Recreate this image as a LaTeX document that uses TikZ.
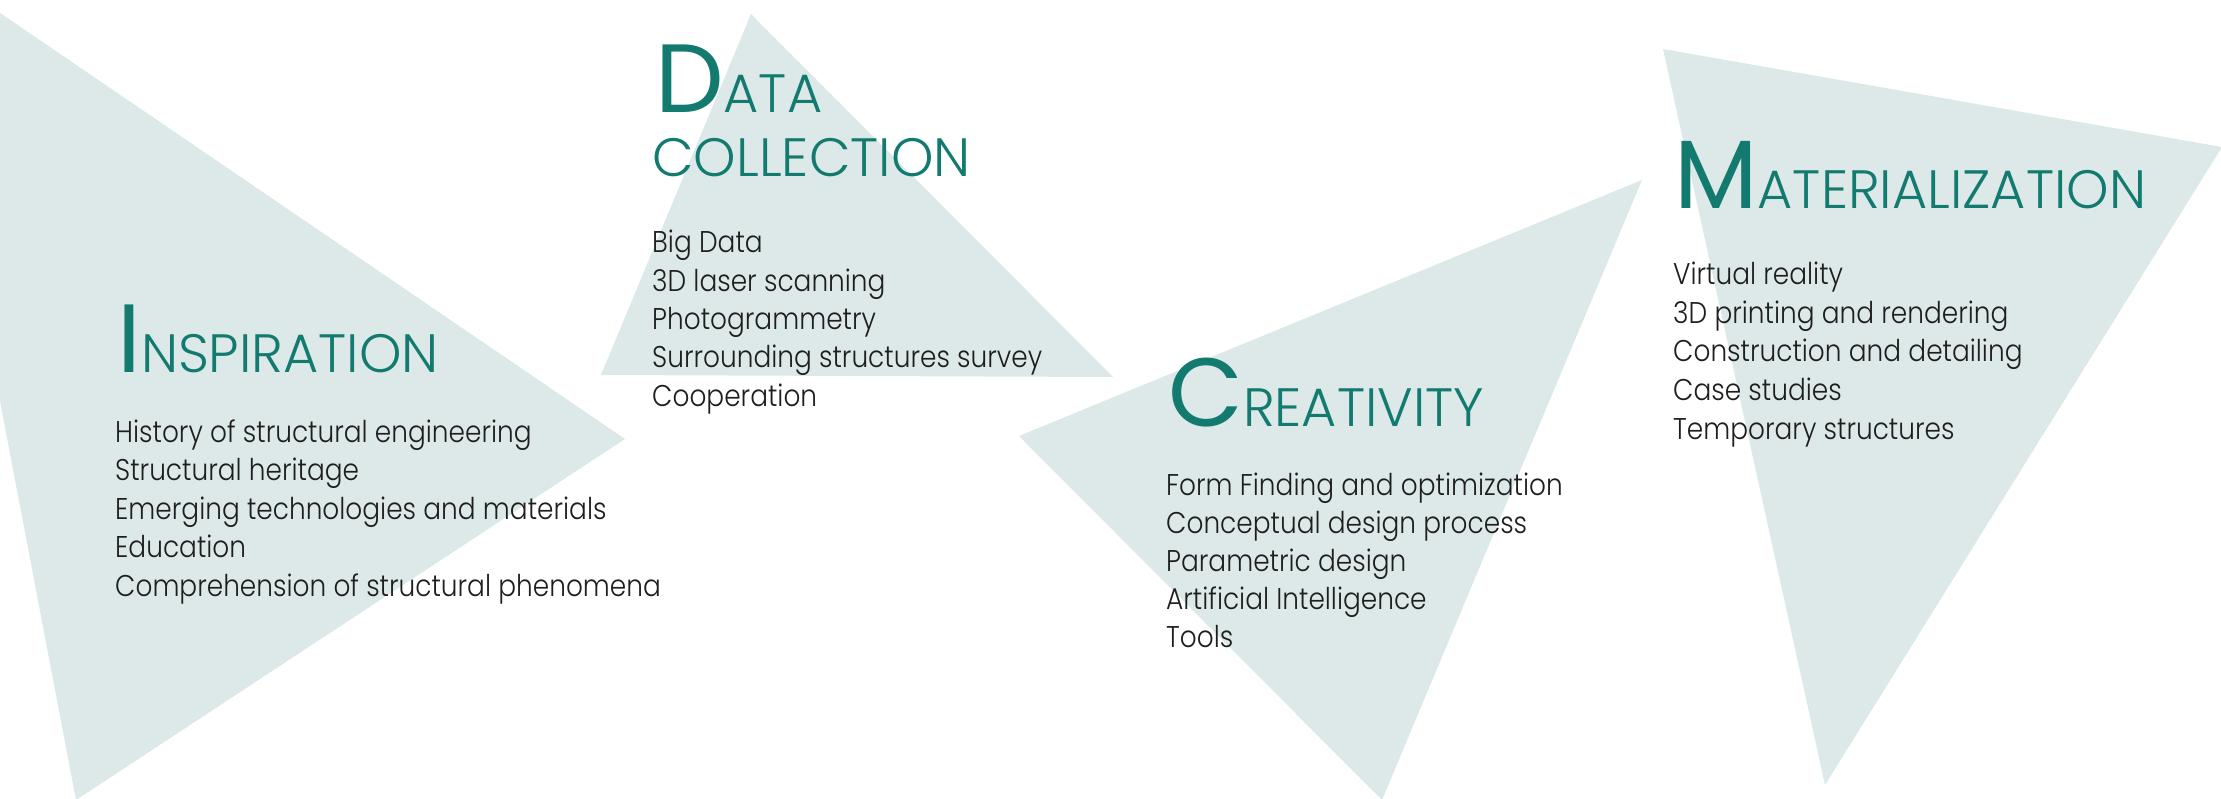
\documentclass[tikz,border=0pt]{standalone}
\usepackage{fontspec}
\setmainfont{Poppins}[UprightFont=* Light,FakeStretch=0.88]
\newfontfamily\headfont{Poppins}
\newfontfamily\headlight{Poppins}[UprightFont=* Light]
\definecolor{tealhead}{HTML}{127A6E}
\definecolor{trifill}{HTML}{DCE9E8}
\definecolor{itemtext}{HTML}{1E1E1E}
\newcommand{\headword}[2]{{\headfont\fontsize{97}{97}\selectfont #1}{\headlight\fontsize{54}{54}\selectfont #2}}
\newcommand{\headrest}[1]{{\headlight\fontsize{54}{54}\selectfont #1}}

\begin{document}
\begin{tikzpicture}[x=1pt,y=-1pt]
        \tikzset{tri/.style={fill=trifill}}
        \tikzset{head/.style={anchor=base west,inner sep=0pt,text=tealhead}}
        \tikzset{item/.style={anchor=base west,inner sep=0pt,text=itemtext,
                font=\fontsize{30}{38}\selectfont}}
        \useasboundingbox (0,0) rectangle (2221,799);
        \clip (0,0) rectangle (2221,799);
        % background triangles
        \fill[tri] (-85,-45) -- (625,439) -- (76,800) -- cycle;
        \fill[tri] (751,14) -- (1113,377) -- (601,375) -- cycle;
        \fill[tri] (1019,436) -- (1642,180) -- (1382,800) -- cycle;
        \fill[tri] (1663,49) -- (2222,147) -- (1825,785) -- cycle;
        % headings
        \node[head] (insp) at (117,373) {\headword{I}{NSPIRATION}};
        \node[head] (data) at (655,113) {\headword{D}{ATA}};
        \node[head] (coll) at (652,177) {\headrest{COLLECTION}};
        \node[head] (crea) at (1168,426) {\headword{C}{REATIVITY}};
        \node[head] (mate) at (1674,209) {\headword{M}{ATERIALIZATION}};
        % topics
        \foreach \txt [count=\i from 0] in {History of structural engineering,
                Structural heritage, Emerging technologies and materials,
                Education, Comprehension of structural phenomena}
                \node[item] (insp\i) at (115,{442+38.5*\i}) {\txt};
        \foreach \txt [count=\i from 0] in {Big Data, 3D laser scanning,
                Photogrammetry, Surrounding structures survey, Cooperation}
                \node[item] (data\i) at (652,{253+38.3*\i}) {\txt};
        \foreach \txt [count=\i from 0] in {Form Finding and optimization,
                Conceptual design process, Parametric design,
                Artificial Intelligence, Tools}
                \node[item] (crea\i) at (1166,{495+38*\i}) {\txt};
        \foreach \txt [count=\i from 0] in {Virtual reality,
                3D printing and rendering, Construction and detailing,
                Case studies, Temporary structures}
                \node[item] (mate\i) at (1673,{285+38.5*\i}) {\txt};
\end{tikzpicture}
\end{document}
